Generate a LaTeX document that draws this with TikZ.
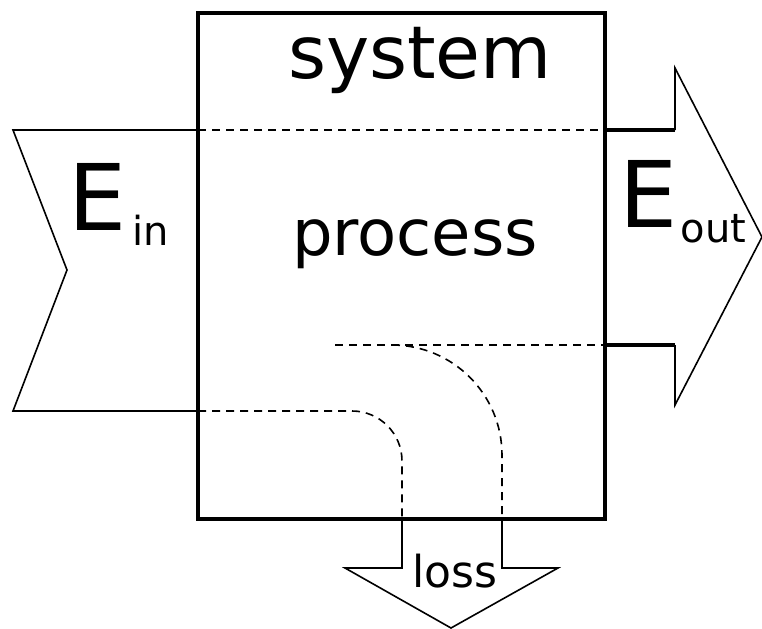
\documentclass[tikz,border=0pt]{standalone}
\usepackage{fontspec}
\setmainfont{DejaVu Sans}
\tikzset{
  wall/.style={line width=1.8pt, line join=miter},
  flow/.style={line width=0.8pt, line join=miter},
  leak/.style={line width=0.8pt, dash pattern=on 4pt off 3pt},
  lbl/.style={inner sep=0pt, anchor=base}
}
\newcommand{\subtext}[1]{\raisebox{-7.5pt}{\fontsize{20pt}{20pt}\selectfont #1}}
\begin{document}
\begin{tikzpicture}[x=0.5pt, y=-0.5pt]
  \useasboundingbox (0,0) rectangle (762,628);
  % corners of the system
  \coordinate (nw) at (198,13);
  \coordinate (se) at (605,519);
  % energy in
  \draw[flow] (198,130) -- (13,130) -- (67,270) -- (13,411) -- (198,411);
  \draw[line width=1.2pt] (13,130) -- (198,130) (13,411) -- (198,411);
  % energy out
  \draw[flow] (675,130) -- (675,68) -- (762,237) -- (675,405) -- (675,345);
  \draw[wall] (605,130) -- (675,130);
  \draw[wall] (605,345) -- (675,345);
  % loss
  \draw[flow] (402,519) -- (402,568) -- (345,568) -- (451,628)
              -- (558,568) -- (502,568) -- (502,519);
  % paths through the system
  \draw[leak] (198,130) -- (605,130);
  \draw[leak] (335,345) -- (605,345);
  \draw[leak] (198,411) -- (352,411) arc[start angle=90, end angle=0, x radius=50, y radius=-50] -- (402,519);
  \draw[leak] (392,345) arc[start angle=90, end angle=0, x radius=110, y radius=-110] -- (502,519);
  \draw[wall] (nw) rectangle (se);
  % labels
  \node[lbl, font=\fontsize{36.5pt}{36.5pt}\selectfont] (sysname) at (420,78) {system};
  \node[lbl, font=\fontsize{32pt}{32pt}\selectfont] (proc) at (415,255) {process};
  \node[lbl, anchor=base west, font=\fontsize{46pt}{46pt}\selectfont] (ein) at (68,230) {E\kern3pt\subtext{in}};
  \node[lbl, anchor=base west, font=\fontsize{46pt}{46pt}\selectfont] (eout) at (619,227) {E\kern1.5pt\subtext{out}};
  \node[lbl, font=\fontsize{22pt}{22pt}\selectfont] (loss) at (455,587) {loss};
\end{tikzpicture}
\end{document}
